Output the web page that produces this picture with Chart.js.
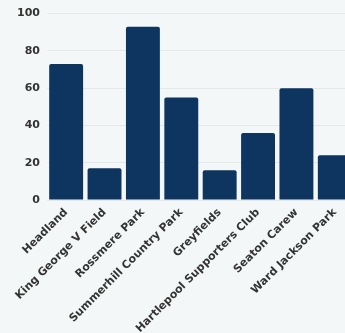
<!DOCTYPE html>
<html>
<head>
<meta charset="utf-8">
<script src="https://cdn.jsdelivr.net/npm/chart.js@4/dist/chart.umd.min.js"></script>
<style>
  html, body { margin: 0; padding: 0; background: #f4f7f7; overflow: hidden; }
  #wrap { position: relative; width: 354px; height: 333px; }
</style>
</head>
<body>
<div id="wrap"><canvas id="chart"></canvas></div>
<script>
// Park names along the x axis
const categories = [
  "Headland",
  "King George V Field",
  "Rossmere Park",
  "Summerhill Country Park",
  "Greyfields",
  "Hartlepool Supporters Club",
  "Seaton Carew",
  "Ward Jackson Park"
];
// Value per park
const values = [73, 17, 93, 55, 16, 36, 60, 24];
// Y axis range and step
const yMin = 0;
const yMax = 100;
const yStep = 20;

const tickFont = { family: "DejaVu Sans", weight: "bold", size: 11 };

new Chart(document.getElementById("chart"), {
  type: "bar",
  data: {
    labels: categories,
    datasets: [{
      data: values,
      backgroundColor: "#0d3560",
      borderWidth: 0,
      borderRadius: 2,
      barPercentage: 0.94,
      categoryPercentage: 0.94
    }]
  },
  options: {
    responsive: true,
    maintainAspectRatio: false,
    animation: false,
    layout: { padding: { top: 3, left: 10, right: 0, bottom: 0 } },
    plugins: {
      legend: { display: false },
      tooltip: { enabled: false }
    },
    scales: {
      x: {
        grid: { display: false, drawTicks: false },
        border: { display: false },
        afterFit: (scale) => { scale.height = 133; },
        ticks: {
          color: "#333",
          font: tickFont,
          minRotation: 45,
          maxRotation: 45,
          autoSkip: false,
          padding: 6
        }
      },
      y: {
        min: yMin,
        max: yMax,
        grid: { color: "#e3e8e8", drawTicks: false, lineWidth: 1 },
        border: { display: false },
        ticks: {
          stepSize: yStep,
          color: "#333",
          font: tickFont,
          padding: 7
        }
      }
    }
  }
});
</script>
</body>
</html>
